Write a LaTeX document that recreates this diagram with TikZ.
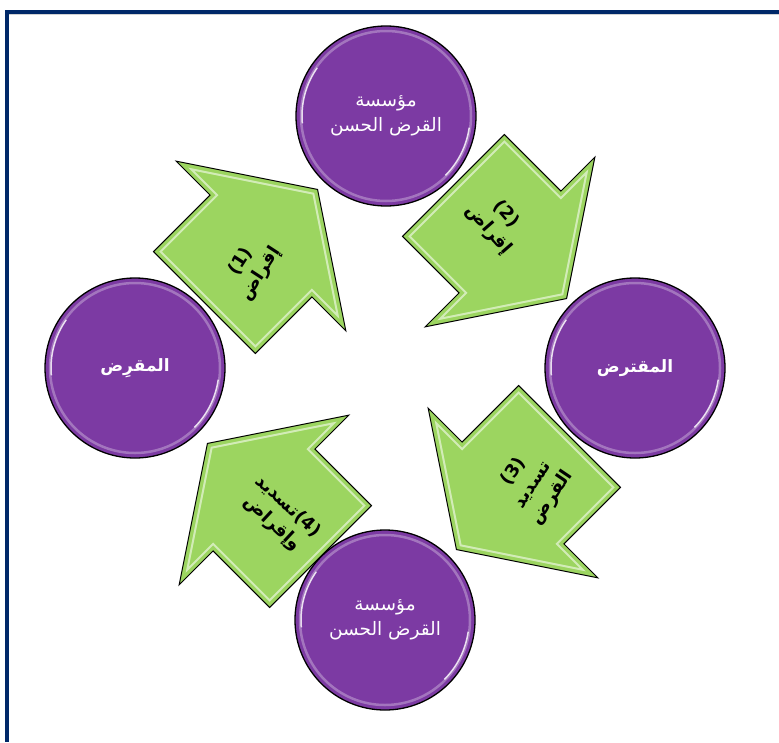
\documentclass[tikz,border=0pt]{standalone}
\usepackage{fontspec}
\newfontfamily\arabicfont[Script=Arabic]{DejaVu Sans}
\TeXXeTstate=1

\definecolor{loanpurple}{RGB}{124,58,163}
\definecolor{loangreen}{RGB}{156,213,96}
\definecolor{framenavy}{RGB}{0,40,104}

\begin{document}
\begin{tikzpicture}[
    x=1pt, y=1pt,
    party/.style={draw=black, line width=1.3pt, circle, fill=loanpurple,
        minimum size=180pt, inner sep=0pt, text=white, align=center},
    arrowbody/.style={draw=black, line width=1pt, fill=loangreen},
    bevel/.style={draw=white, line width=2pt, opacity=.55},
    tag/.style={align=center, font=\arabicfont\bfseries\fontsize{18}{23}\selectfont},
]
\useasboundingbox (0,0) rectangle (779,-742);

% frame
\fill[framenavy] (4.5,-9.5) rectangle (779,-14);
\fill[framenavy] (4.5,-9.5) rectangle (9,-742);
\draw[gray!35, line width=1pt] (9,-14.6) -- (779,-14.6);

% the four arrows
\foreach \x/\y/\ang in {261/-246/45, 510/-242/-45, 513/-493/-135, 264/-500/135} {
  \begin{scope}[shift={(\x,\y)}, rotate=\ang]
    \draw[arrowbody] (-80,72) -- (0,72) -- (0,120) -- (80,0) -- (0,-120) -- (0,-72) -- (-80,-72) -- cycle;
    \draw[bevel] (-75,67) -- (5,67) -- (5,103.5) -- (74,0) -- (5,-103.5) -- (5,-67) -- (-75,-67) -- cycle;
  \end{scope}
}

% parties
\node[party, font=\arabicfont\fontsize{18.5}{25}\selectfont] (inst) at (386,-116)
    {\beginR مؤسسة\endR\\\beginR القرض الحسن\endR};
\node[party, font=\arabicfont\bfseries\fontsize{17}{24}\selectfont] (lender) at (135,-368)
    {\beginR المقرِض\endR};
\node[party, font=\arabicfont\bfseries\fontsize{17}{24}\selectfont] (borrower) at (635,-368)
    {\beginR المقترض\endR};
\node[party, font=\arabicfont\fontsize{18.5}{25}\selectfont] (base) at (385,-620)
    {\beginR مؤسسة\endR\\\beginR القرض الحسن\endR};

% glassy rims
\foreach \n in {inst, lender, borrower, base} {
  \draw[white, opacity=.3, line width=2.5pt] (\n.center) circle (85pt);
  \draw[white, opacity=.8, line width=1.5pt] ([shift={(145:84pt)}]\n.center) arc (145:185:84pt);
  \draw[white, opacity=.8, line width=1.5pt] ([shift={(-8:84pt)}]\n.center) arc (-8:-45:84pt);
}

% arrow labels
\node[tag, rotate=57] (lendtxt) at (251,-268) {(1)\\\beginR إقراض\endR};
\node[tag, rotate=-49] (granttxt) at (497,-222) {(2)\\\beginR إقراض\endR};
\node[tag, rotate=56] (repaytxt) at (533,-485) {(3)\\\beginR تسديد\endR\\\beginR القرض\endR};
\node[tag, rotate=-43] (renewtxt) at (280,-515) {\beginR تسديد\endR(4)\\\beginR وإقراض\endR};

\end{tikzpicture}
\end{document}
